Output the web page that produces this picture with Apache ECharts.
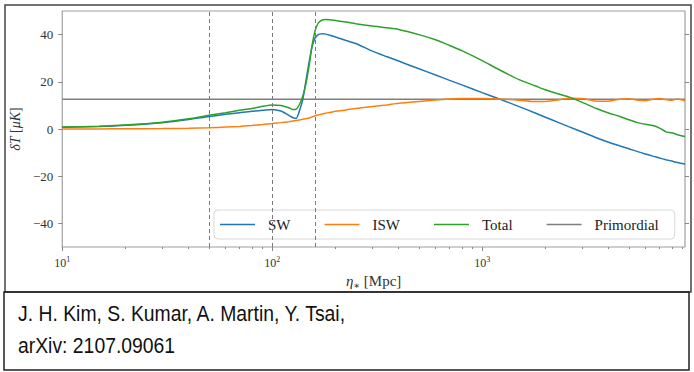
<!DOCTYPE html>
<html>
<head>
<meta charset="utf-8">
<script src="https://cdn.jsdelivr.net/npm/echarts@6/dist/echarts.min.js"></script>
<style>
html,body{margin:0;padding:0;background:#fff;}
#chart{width:694px;height:372px;}
</style>
</head>
<body>
<div id="chart"></div>
<script>
// ---- data ----
const eta = [10, 15, 20, 30, 40, 50, 60, 70, 80, 90, 100, 110, 120, 125, 130, 135, 140, 145, 150, 155,
  160, 165, 170, 175, 180, 190, 200, 225, 250, 300, 350, 400, 500, 600, 700, 800, 1000, 1200, 1500, 1800,
  2000, 2300, 2600, 3000, 3500, 4000, 4500, 5000, 5500, 6000, 6500, 7000, 7500, 8000, 8500, 9250];

const sw = [0.7, 1.1, 1.6, 2.7, 4.0, 5.3, 6.2, 6.9, 7.5, 7.9, 8.3, 7.6, 5.8, 4.9, 4.5, 7.8, 12.8, 20.8, 28.4, 35.0,
  38.5, 39.9, 40.3, 40.4, 40.2, 39.6, 39.0, 37.5, 36.2, 33.0, 30.7, 28.8, 25.5, 22.9, 20.6, 18.7, 15.4, 12.8, 9.5, 6.7,
  5.0, 2.8, 0.9, -1.3, -3.7, -5.6, -7.1, -8.4, -9.6, -10.6, -11.5, -12.3, -13.0, -13.6, -14.2, -14.9];

const isw = [0.0, 0.05, 0.1, 0.2, 0.3, 0.5, 0.8, 1.1, 1.5, 1.9, 2.3, 2.7, 3.1, 3.35, 3.6, 3.85, 4.1, 4.4, 4.7, 5.1,
  5.6, 5.9, 6.2, 6.45, 6.7, 7.1, 7.5, 8.1, 8.7, 9.5, 10.2, 10.9, 11.7, 12.3, 12.7, 12.9, 12.9, 12.7, 12.2, 11.6,
  11.7, 12.3, 13.0, 12.9, 11.8, 11.8, 12.6, 12.8, 12.2, 12.0, 12.6, 12.9, 12.5, 12.2, 12.7, 12.0];

const total = [0.8, 1.2, 1.7, 2.9, 4.3, 5.8, 6.9, 7.9, 8.7, 9.6, 10.2, 10.0, 9.0, 8.3, 8.4, 10.5, 14.0, 19.5, 27.0, 35.5,
  41.5, 44.6, 45.8, 46.3, 46.4, 46.2, 46.0, 45.3, 44.6, 43.6, 42.9, 42.2, 40.0, 37.8, 35.4, 33.2, 29.0, 25.2, 20.9, 18.2,
  16.6, 14.9, 13.5, 11.3, 8.7, 6.8, 5.4, 3.9, 2.7, 2.0, 1.5, 0.4, -1.2, -1.6, -2.4, -3.2];

const primordialEta = [10, 9250];
const primordialValue = [12.6, 12.6];
const markerEta = [50, 100, 160];

const xMajorTicks = [10, 100, 1000];
const xMinorTicks = [20, 30, 40, 50, 60, 70, 80, 90, 200, 300, 400, 500, 600, 700, 800, 900,
  2000, 3000, 4000, 5000, 6000, 7000, 8000, 9000];
const yTicks = [-40, -20, 0, 20, 40];
const seriesNames = ['SW', 'ISW', 'Total', 'Primordial'];
const creditLines = ['J. H. Kim, S. Kumar, A. Martin, Y. Tsai,', 'arXiv: 2107.09061'];

// ---- chart ----
const SERIF = "'Liberation Serif', 'DejaVu Serif', serif";
const pair = (xs, ys) => xs.map((x, i) => [x, ys[i]]);

const chart = echarts.init(document.getElementById('chart'), null, {renderer: 'svg'});

const lineBase = {type: 'line', symbol: 'none', showSymbol: false, smooth: 0.25, xAxisIndex: 0, yAxisIndex: 0};

chart.setOption({
  animation: false,
  backgroundColor: '#fff',
  grid: {left: 62, top: 11, right: 9, bottom: 125, show: true, borderColor: '#a0a0a0', borderWidth: 1.2, backgroundColor: 'transparent'},
  xAxis: [{
    type: 'log', logBase: 10, min: 10, max: 9250, position: 'bottom',
    axisLine: {show: false, onZero: false},
    axisTick: {show: true, customValues: xMajorTicks, length: 4, lineStyle: {color: '#888', width: 1}},
    axisLabel: {
      show: true, customValues: xMajorTicks, margin: 8,
      formatter: v => '{b|10}{s|' + Math.round(Math.log10(v)) + '}',
      rich: {
        b: {fontFamily: SERIF, fontSize: 12, color: '#333', lineHeight: 16},
        s: {fontFamily: SERIF, fontSize: 8, color: '#333', lineHeight: 8, verticalAlign: 'top'}
      }
    },
    splitLine: {show: false},
    name: '{i|η}{sub|∗} [Mpc]', nameLocation: 'middle', nameGap: 24,
    nameTextStyle: {
      fontFamily: SERIF, fontSize: 15, color: '#333',
      rich: {
        i: {fontFamily: SERIF, fontSize: 15, fontStyle: 'italic', color: '#333', lineHeight: 18},
        sub: {fontFamily: SERIF, fontSize: 10, color: '#333', lineHeight: 10, verticalAlign: 'bottom'}
      }
    }
  }, {
    type: 'log', logBase: 10, min: 10, max: 9250, position: 'bottom', gridIndex: 0,
    axisLine: {show: false, onZero: false},
    axisTick: {show: true, customValues: xMinorTicks, length: 2, lineStyle: {color: '#888', width: 1}},
    axisLabel: {show: false},
    splitLine: {show: false}
  }],
  yAxis: [{
    type: 'value', min: -50, max: 50, position: 'left',
    axisLine: {show: false, onZero: false},
    axisTick: {show: true, customValues: yTicks, length: 4, lineStyle: {color: '#888', width: 1}},
    axisLabel: {
      show: true, customValues: yTicks, margin: 9,
      fontFamily: SERIF, fontSize: 13, color: '#333',
      formatter: v => (v < 0 ? '\u2212' + Math.abs(v) : String(v))
    },
    splitLine: {show: false},
    name: '{i|δT} [{i|μK}]', nameLocation: 'middle', nameGap: 27,
    nameTextStyle: {
      fontFamily: SERIF, fontSize: 14, color: '#333',
      rich: {i: {fontFamily: SERIF, fontSize: 14, fontStyle: 'italic', color: '#333'}}
    }
  }, {
    type: 'value', min: -50, max: 50, position: 'right',
    axisLine: {show: false, onZero: false},
    axisTick: {show: true, customValues: yTicks, length: 4, lineStyle: {color: '#888', width: 1}},
    axisLabel: {show: false},
    splitLine: {show: false}
  }],
  legend: {
    data: seriesNames,
    left: 214, top: 210,
    orient: 'horizontal',
    icon: 'rect',
    itemWidth: 35, itemHeight: 1.5, itemGap: 34,
    padding: [7, 16, 7, 6],
    backgroundColor: 'rgba(255,255,255,0.8)',
    borderColor: '#d8d8d8', borderWidth: 1, borderRadius: 4,
    textStyle: {fontFamily: SERIF, fontSize: 15, color: '#222', lineHeight: 14, padding: [0, 0, 0, 8]}
  },
  series: [
    Object.assign({}, lineBase, {name: 'SW', data: pair(eta, sw), lineStyle: {color: '#1f77b4', width: 1.5}, itemStyle: {color: '#1f77b4'}, z: 3}),
    Object.assign({}, lineBase, {name: 'ISW', data: pair(eta, isw), lineStyle: {color: '#ff7f0e', width: 1.5}, itemStyle: {color: '#ff7f0e'}, z: 3}),
    Object.assign({}, lineBase, {name: 'Total', data: pair(eta, total), lineStyle: {color: '#2ca02c', width: 1.5}, itemStyle: {color: '#2ca02c'}, z: 3}),
    Object.assign({}, lineBase, {
      name: 'Primordial', smooth: false, data: pair(primordialEta, primordialValue),
      lineStyle: {color: '#7f7f7f', width: 1.5}, itemStyle: {color: '#7f7f7f'}, z: 2,
      markLine: {
        silent: true, symbol: 'none', label: {show: false},
        lineStyle: {type: [4, 3], color: '#7a7a7a', width: 1},
        data: markerEta.map(v => ({xAxis: v}))
      }
    })
  ],
  graphic: [
    {type: 'rect', shape: {x: 5, y: 5, width: 686, height: 287}, style: {fill: 'none', stroke: '#444', lineWidth: 1.5}, silent: true},
    {type: 'rect', shape: {x: 4, y: 292, width: 685, height: 78}, style: {fill: 'none', stroke: '#222', lineWidth: 1.5}, silent: true},
    {type: 'text', x: 18, y: 313, scaleX: 0.88, style: {text: creditLines[0], fill: '#111', font: "22px 'Liberation Sans', Arial, sans-serif", textVerticalAlign: 'middle'}, silent: true},
    {type: 'text', x: 18, y: 345, scaleX: 0.88, style: {text: creditLines[1], fill: '#111', font: "22px 'Liberation Sans', Arial, sans-serif", textVerticalAlign: 'middle'}, silent: true}
  ]
});
</script>
</body>
</html>
